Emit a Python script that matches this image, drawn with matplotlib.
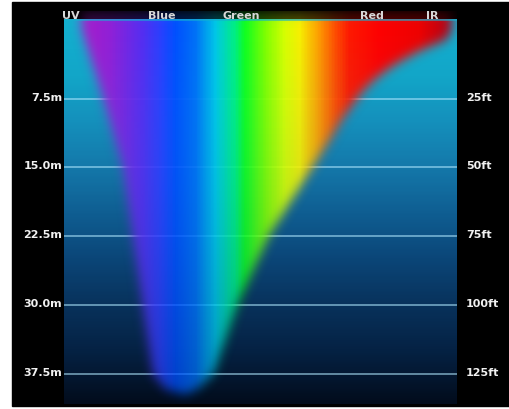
import numpy as np
import matplotlib
matplotlib.use("Agg")
import matplotlib.pyplot as plt
from matplotlib.colors import LinearSegmentedColormap
from matplotlib.path import Path
from matplotlib.patches import Rectangle

# light bands across the top (wavelength, nm)
bands = ["UV", "Blue", "Green", "Red", "IR"]
band_nm = [357, 449, 530, 663, 725]

# depth grid lines
depth_m = [7.5, 15.0, 22.5, 30.0, 37.5]
depth_m_labels = ["7.5m", "15.0m", "22.5m", "30.0m", "37.5m"]
depth_ft_labels = ["25ft", "50ft", "75ft", "100ft", "125ft"]

# how deep each wavelength gets (nm, metres)
pen_nm = [368, 390, 410, 420, 430, 440, 453, 473, 488, 502, 526, 558, 604,
          621, 633, 648, 656, 667, 679, 695, 715, 740, 745]
pen_depth = [0.0, 7.5, 15.0, 22.5, 30.0, 37.5, 39.2, 39.8, 39.0, 37.5, 30.0,
             22.5, 14.8, 11.9, 9.7, 7.5, 6.4, 5.3, 4.3, 3.2, 2.1, 1.0, 0.0]

# spectrum colours by wavelength
spec_nm = [350, 371, 397, 427, 448, 463, 483, 504, 524, 534, 555, 575, 590,
           609, 626, 641, 672, 712, 738, 750]
spec_col = ["#b01cc8", "#a81ccc", "#9020d8", "#5a2cf0", "#2a40ff", "#0050ff",
            "#0070f8", "#00c8e8", "#00f080", "#10ff20", "#80ff00", "#d8ff00",
            "#f8f000", "#ffa000", "#ff5000", "#ff1800", "#ff0000", "#f00000",
            "#c00010", "#a00020"]

# water colour by depth
water_depth = [-1.09, 5, 10, 15, 20, 25, 30, 35, 38, 40.8]
water_col = ["#14b0d0", "#12a6c8", "#1590bc", "#1478aa", "#0f5e92",
             "#0b4678", "#08325c", "#052244", "#041730", "#020c1c"]

x0, x1 = 350, 750
ytop, ypanel, ybot = -2.07, -1.09, 40.8

fig = plt.figure(figsize=(5.1, 4.1), dpi=100, facecolor="white")
fig.patches.append(Rectangle((12 / 510, 3 / 410), 1, 404 / 410,
                             transform=fig.transFigure, color="black", zorder=-5))
ax = fig.add_axes([64 / 510, 5 / 410, 393 / 510, 393 / 410])
ax.set_zorder(2)
ax.set_facecolor("black")
ax.set_xlim(x0, x1)
ax.set_ylim(ybot, ytop)
ax.axis("off")

# water background
span = water_depth[-1] - water_depth[0]
wcmap = LinearSegmentedColormap.from_list(
    "water", [((d - water_depth[0]) / span, c) for d, c in zip(water_depth, water_col)])
grad = np.linspace(0, 1, 300).reshape(-1, 1)
ax.imshow(grad, cmap=wcmap, aspect="auto", extent=[x0, x1, ybot, ypanel],
          origin="upper", zorder=1)

# depth lines
for d in depth_m:
    ax.plot([x0, x1], [d, d], color="#b0e8ff", alpha=0.55, lw=1.4, zorder=2)

# spectrum, cut by the penetration envelope and softened
nx, ny = 400, 400
gx = np.linspace(x0, x1, nx)
gy = np.linspace(ytop, ybot, ny)
XX, YY = np.meshgrid(gx, gy)
verts = [(pen_nm[0], ytop)] + list(zip(pen_nm, pen_depth)) + [(pen_nm[-1], ytop)]
inside = Path(verts).contains_points(np.c_[XX.ravel(), YY.ravel()]).reshape(ny, nx)
mask = inside.astype(float)
k = np.exp(-0.5 * (np.arange(-16, 17) / 5.5) ** 2)
k /= k.sum()
mask = np.apply_along_axis(lambda r: np.convolve(r, k, mode="same"), 1, mask)
mask = np.apply_along_axis(lambda c: np.convolve(c, k, mode="same"), 0, mask)
mask *= 1 - 0.25 * np.clip(YY, 0, None) / 40
mask[YY < ypanel] *= 0.3

scmap = LinearSegmentedColormap.from_list(
    "spec", [((n - x0) / (x1 - x0), c) for n, c in zip(spec_nm, spec_col)])
rgba = scmap((XX - x0) / (x1 - x0))
rgba[..., 3] = np.clip(mask, 0, 1)
ax.imshow(rgba, aspect="auto", extent=[x0, x1, ybot, ytop], origin="upper",
          interpolation="bilinear", zorder=3)

font = dict(family="DejaVu Sans", fontweight="bold", fontsize=8)
for d, lm, lf in zip(depth_m, depth_m_labels, depth_ft_labels):
    ax.text(348, d + 0.1, lm, ha="right", va="baseline", color="#f0f0f0",
            clip_on=False, **font)
    ax.text(759, d + 0.1, lf, ha="left", va="baseline", color="#f0f0f0",
            clip_on=False, **font)
for b, n in zip(bands, band_nm):
    ax.text(n, -1.65, b, ha="center", va="center", color="#d8d8d8",
            zorder=5, **font)

fig.savefig("out.png", dpi=100, facecolor="white")
